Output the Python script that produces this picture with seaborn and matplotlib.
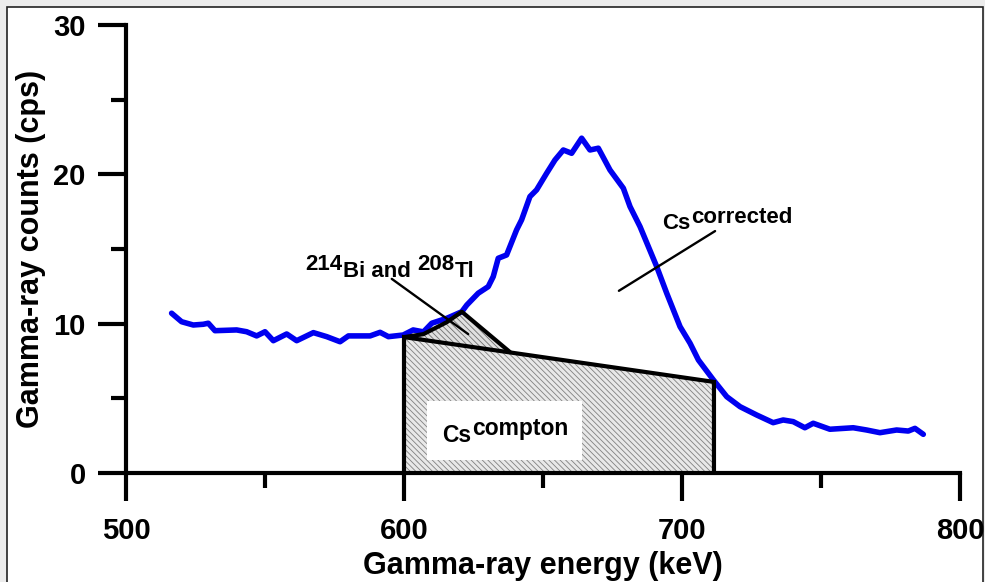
import numpy as np
import pandas as pd
import matplotlib.pyplot as plt
from matplotlib.patches import Rectangle
import seaborn as sns

# espectro medido (keV, cps)
energia = [516.4, 520.0, 524.2, 527.8, 529.6, 532.0, 539.8, 543.4, 547.0, 550.0,
           553.0, 557.8, 561.4, 567.4, 572.2, 577.0, 580.0, 587.8, 591.4, 594.4,
           599.7, 603.3, 607.0, 610.0, 615.4, 620.8, 622.6, 626.7, 630.3, 632.1,
           633.9, 636.9, 640.5, 642.3, 645.3, 647.7, 651.3, 654.3, 657.3, 660.3,
           663.9, 666.9, 669.9, 674.1, 678.9, 681.3, 684.9, 687.9, 690.9, 694.5,
           699.3, 702.9, 705.9, 711.3, 716.1, 720.9, 726.9, 732.8, 736.4, 740.0,
           744.2, 747.2, 753.2, 761.6, 766.4, 771.2, 777.2, 781.4, 783.8, 786.8]
cuentas = [10.70, 10.13, 9.91, 9.96, 10.03, 9.53, 9.58, 9.46, 9.18, 9.46,
           8.86, 9.31, 8.86, 9.40, 9.13, 8.79, 9.18, 9.18, 9.42, 9.13,
           9.24, 9.58, 9.45, 10.03, 10.36, 10.80, 11.25, 12.04, 12.48, 13.15,
           14.38, 14.60, 16.28, 16.95, 18.51, 18.96, 20.07, 20.96, 21.63, 21.41,
           22.42, 21.63, 21.75, 20.29, 19.07, 17.84, 16.50, 15.16, 13.82, 12.04,
           9.80, 8.69, 7.57, 6.23, 5.11, 4.44, 3.88, 3.37, 3.55, 3.44,
           3.03, 3.33, 2.93, 3.03, 2.88, 2.70, 2.88, 2.81, 2.99, 2.59]

# region Compton (trapecio) y region 214Bi / 208Tl
compton_x = [600, 600, 711.5, 711.5]
compton_y = [0, 9.1, 6.1, 0]
bi_x = [600, 607, 615.4, 620.8, 638.1]
bi_y = [9.1, 9.3, 10.1, 10.8, 8.1]

x_ticks = [500, 600, 700, 800]
y_ticks = [0, 10, 20, 30]

df = pd.DataFrame({'energia': energia, 'cuentas': cuentas})

sns.set_style('ticks')
plt.rcParams['font.family'] = ['Liberation Sans', 'DejaVu Sans']
plt.rcParams['font.weight'] = 'bold'
plt.rcParams['text.color'] = 'black'
plt.rcParams['axes.labelcolor'] = 'black'
plt.rcParams['xtick.color'] = 'black'
plt.rcParams['ytick.color'] = 'black'
plt.rcParams['hatch.linewidth'] = 0.6
plt.rcParams['hatch.color'] = '#808080'

fig = plt.figure(figsize=(9.85, 5.82), dpi=100)
fig.patch.set_facecolor('#ececec')
fig.patches.append(Rectangle((7 / 985, -0.05), 976 / 985, 1.05 - 7 / 582,
                             transform=fig.transFigure, facecolor='white',
                             edgecolor='#222222', linewidth=1.2, zorder=-10))
ax = fig.add_axes([126 / 985, 1 - 473 / 582, 834 / 985, 448 / 582])
ax.patch.set_alpha(0)

# Areas rayadas
ax.fill(compton_x, compton_y, facecolor='#e8e8e8', edgecolor='#808080',
        hatch='\\' * 6, linewidth=0, zorder=1)
ax.fill(bi_x + [bi_x[0]], bi_y + [bi_y[0]], facecolor='#e0e0e0', edgecolor='#707070',
        hatch='\\' * 6, linewidth=0, zorder=1)
ax.add_patch(Rectangle((608.3, 0.9), 55.7, 3.9, facecolor='white', edgecolor='none', zorder=2))

# Curva
sns.lineplot(data=df, x='energia', y='cuentas', ax=ax, color='#0000f0', linewidth=4,
             sort=False, estimator=None, zorder=3)

# Contornos
ax.plot(compton_x, compton_y, color='black', linewidth=3, zorder=4, solid_joinstyle='miter')
ax.plot(bi_x, bi_y, color='black', linewidth=3, zorder=4)

# Lineas guia
ax.plot([595.6, 623.1], [13.0, 9.3], color='black', linewidth=1.7, zorder=5)
ax.plot([711.9, 677.3], [16.2, 12.2], color='black', linewidth=1.7, zorder=5)


def etiqueta(x, y, partes, fs=16):
    # partes: lista de (texto, desplazamiento vertical en puntos, espacio antes)
    t = ax.text(x, y, partes[0][0], fontsize=fs, fontweight='bold', va='baseline', ha='left', zorder=6)
    for txt, dy, gap in partes[1:]:
        t = ax.annotate(txt, xy=(1, 0), xycoords=t, xytext=(gap, dy), textcoords='offset points',
                        fontsize=fs, fontweight='bold', va='bottom', ha='left', zorder=6)
    return t


etiqueta(564.4, 13.6, [('214', 0, 0), ('Bi and', -5, 0.5), ('208', 5, 4.5), ('Tl', -5, 0.5)])
etiqueta(692.8, 16.35, [('Cs', 0, 0), ('corrected', 4.5, 0.5)])
etiqueta(613.6, 2.1, [('Cs', 0, 0), ('compton', 5, 0.5)], fs=16.5)

# Ejes
ax.set_xlim(500, 800)
ax.set_ylim(0, 30)
ax.set_xticks(x_ticks)
ax.set_yticks(y_ticks)
ax.set_xticks([550, 650, 750], minor=True)
ax.set_yticks([5, 15, 25], minor=True)
ax.tick_params(axis='both', which='major', width=3, length=20, labelsize=21, color='black')
ax.tick_params(axis='both', which='minor', width=3, length=11, color='black')
ax.tick_params(axis='x', which='major', pad=12)
ax.tick_params(axis='y', which='major', pad=9)
for lab in ax.get_xticklabels() + ax.get_yticklabels():
    lab.set_fontweight('bold')
sns.despine(ax=ax)
for s in ['left', 'bottom']:
    ax.spines[s].set_linewidth(3)
    ax.spines[s].set_color('black')
ax.spines['left'].set_bounds(0, 30)
ax.spines['bottom'].set_bounds(500, 800)

ax.set_xlabel('Gamma-ray energy (keV)', fontsize=22, fontweight='bold', labelpad=4)
ax.set_ylabel('Gamma-ray counts (cps)', fontsize=22, fontweight='bold', labelpad=5)

fig.savefig('out.png', dpi=100)
